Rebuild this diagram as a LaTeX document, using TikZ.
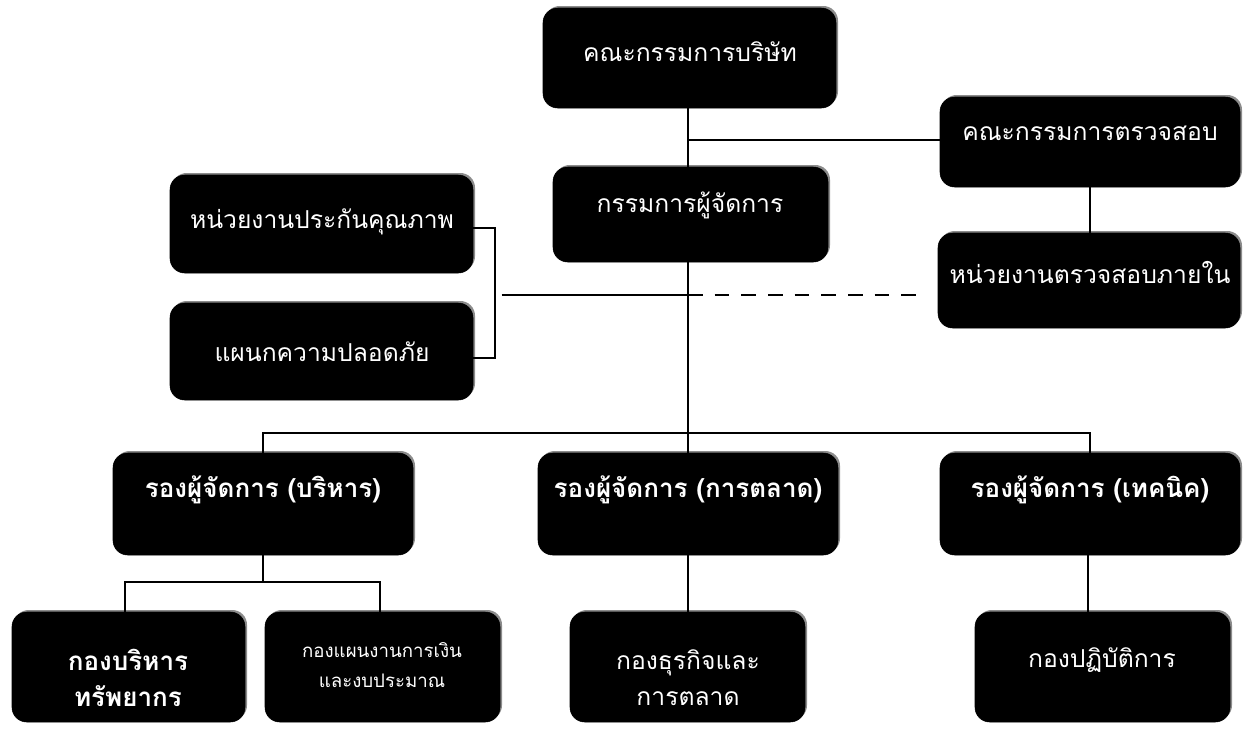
\documentclass[tikz,border=0pt]{standalone}
\usepackage{fontspec}
\newfontfamily\thai[Script=Thai]{Loma}
\usetikzlibrary{shadows}
\tikzset{
  box/.style={fill=black, draw=black, rounded corners=11pt, inner sep=0pt,
    general shadow={fill=black!45, shadow xshift=1.5pt, shadow yshift=1.5pt}},
  lbl/.style={text=white, font=\thai\fontsize{18.5}{27}\selectfont, align=center, inner sep=0pt},
  lblb/.style={lbl, font=\thai\bfseries\fontsize{19.5}{27}\selectfont},
  lbls/.style={lbl, font=\thai\fontsize{14}{22}\selectfont},
  conn/.style={line width=1.9pt, draw=black},
  dconn/.style={conn, dash pattern=on 11pt off 9pt},
}
\begin{document}
\begin{tikzpicture}[x=0.75pt, y=-0.75pt]
\useasboundingbox (0,0) rectangle (1247,729);
% boxes
\node[box, minimum width=293*0.75pt, minimum height=100*0.75pt] (board) at (689.5,58) {};
\node[box, minimum width=275*0.75pt, minimum height=95*0.75pt] (md) at (690.5,214.5) {};
\node[box, minimum width=300*0.75pt, minimum height=90*0.75pt] (audit) at (1090,142) {};
\node[box, minimum width=302*0.75pt, minimum height=95*0.75pt] (inaudit) at (1089,280.5) {};
\node[box, minimum width=303*0.75pt, minimum height=98*0.75pt] (qa) at (321.5,224) {};
\node[box, minimum width=303*0.75pt, minimum height=97*0.75pt] (safe) at (321.5,351.5) {};
\node[box, minimum width=300*0.75pt, minimum height=102*0.75pt] (vpa) at (263,504) {};
\node[box, minimum width=300*0.75pt, minimum height=102*0.75pt] (vpm) at (688,504) {};
\node[box, minimum width=300*0.75pt, minimum height=102*0.75pt] (vpt) at (1090,504) {};
\node[box, minimum width=233*0.75pt, minimum height=110*0.75pt] (dres) at (128.5,667) {};
\node[box, minimum width=235*0.75pt, minimum height=110*0.75pt] (dfin) at (382.5,667) {};
\node[box, minimum width=235*0.75pt, minimum height=110*0.75pt] (dbus) at (687.5,667) {};
\node[box, minimum width=255*0.75pt, minimum height=110*0.75pt] (dops) at (1102.5,667) {};
% labels
\node[lbl] (boardt) at (690,52) {คณะกรรมการบริษัท};
\node[lbl] (mdt) at (690,205) {กรรมการผู้จัดการ};
\node[lbl] (auditt) at (1090,133) {คณะกรรมการตรวจสอบ};
\node[lbl] (inauditt) at (1090,272) {หน่วยงานตรวจสอบภายใน};
\node[lbl] (qat) at (322,222) {หน่วยงานประกันคุณภาพ};
\node[lbl] (safet) at (322,352) {แผนกความปลอดภัย};
\node[lblb] (vpat) at (263,490) {รองผู้จัดการ (บริหาร)};
\node[lblb] (vpmt) at (688,490) {รองผู้จัดการ (การตลาด)};
\node[lblb] (vptt) at (1090,490) {รองผู้จัดการ (เทคนิค)};
\node[lblb] (drest) at (128,678) {กองบริหาร\\ทรัพยากร};
\node[lbls] (dfint) at (382,665) {กองแผนงานการเงิน\\และงบประมาณ};
\node[lbl] (dbust) at (688,678) {กองธุรกิจและ\\การตลาด};
\node[lbl] (dopst) at (1102,660) {กองปฏิบัติการ};
% junction coordinates
\coordinate (jaud) at (688,140);
\coordinate (jmid) at (688,295);
\coordinate (jbar) at (688,433);
\coordinate (brk) at (495,295);
\coordinate (dashend) at (927,295);
\coordinate (jva) at (263,582);
% connectors
\draw[conn] (board.south -| jaud) -- (md.north -| jaud);
\draw[conn] (jaud) -- (audit.west |- jaud);
\draw[conn] (audit.south) -- (inaudit.north -| audit.south);
\draw[conn] (md.south -| jbar) -- (jbar);
\draw[conn] (vpa.north) -- (vpa.north |- jbar) -- (vpt.north |- jbar) -- (vpt.north);
\draw[conn] (jbar) -- (vpm.north);
\draw[conn] (qa.east |- 0,228) -- (brk |- 0,228) -- (brk |- 0,358) -- (safe.east |- 0,358);
\draw[conn] ([xshift=5pt]brk) -- (jmid);
\draw[dconn] (jmid) -- (dashend);
\draw[conn] (vpa.south) -- (jva);
\draw[conn] (dres.north -| 125,0) -- (125,582) -- (380,582) -- (dfin.north -| 380,0);
\draw[conn] (vpm.south) -- (dbus.north -| vpm.south);
\draw[conn] (vpt.south -| 1088,0) -- (dops.north -| 1088,0);
\end{tikzpicture}
\end{document}
